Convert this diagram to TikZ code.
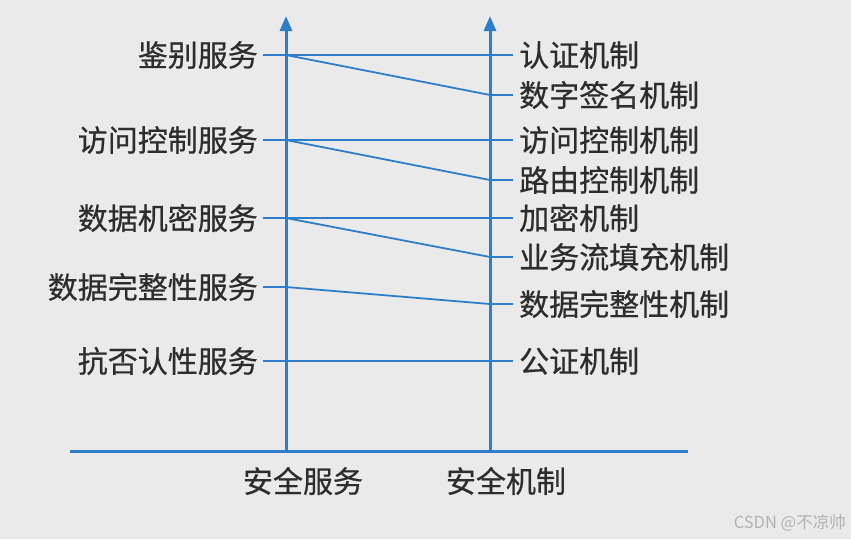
\documentclass[tikz,border=0pt]{standalone}
\usepackage{fontspec}
\setmainfont{Noto Sans CJK SC}
\newfontfamily\cjk[FakeBold=0.6]{Noto Sans CJK SC}
\newfontfamily\wmfont{Noto Sans CJK SC}
\usetikzlibrary{arrows.meta}
\definecolor{axisblue}{RGB}{46,125,200}
\definecolor{txt}{RGB}{45,45,45}
\definecolor{bg}{RGB}{234,234,234}
\begin{document}
\begin{tikzpicture}[x=1pt,y=-1pt,
  lab/.style={font=\cjk\fontsize{30}{32}\selectfont, text=txt, inner ysep=0pt},
  llab/.style={lab, anchor=east, inner xsep=5pt},
  rlab/.style={lab, anchor=west, inner xsep=6pt},
  axisline/.style={draw=axisblue, line width=3pt},
  conn/.style={draw=axisblue, line width=1.8pt, line join=round},
  arr/.style={-{Triangle[length=15pt,width=12pt]}}]
\fill[bg] (0,0) rectangle (851,539);
\useasboundingbox (0,0) rectangle (851,539);
% axes
\coordinate (base0) at (70,451);
\coordinate (base1) at (688,451);
\coordinate (axL) at (286,451);
\coordinate (axR) at (490,451);
\coordinate (topL) at (286,16);
\coordinate (topR) at (490,16);
\draw[axisline] (base0) -- (base1);
\draw[axisline,arr] (axL) -- (topL);
\draw[axisline,arr] (axR) -- (topR);
% left labels
\node[llab] (s1) at (263,55) {鉴别服务};
\node[llab] (s2) at (263,140) {访问控制服务};
\node[llab] (s3) at (263,218) {数据机密服务};
\node[llab] (s4) at (263,287) {数据完整性服务};
\node[llab] (s5) at (263,361) {抗否认性服务};
% right labels
\node[rlab] (m1) at (513,55) {认证机制};
\node[rlab] (m2) at (513,95) {数字签名机制};
\node[rlab] (m3) at (513,140) {访问控制机制};
\node[rlab] (m4) at (513,180) {路由控制机制};
\node[rlab] (m5) at (513,218) {加密机制};
\node[rlab] (m6) at (513,257) {业务流填充机制};
\node[rlab] (m7) at (513,304) {数据完整性机制};
\node[rlab] (m8) at (513,361) {公证机制};
% junctions on axes
\coordinate (j1) at (286,55);
\coordinate (j2) at (286,140);
\coordinate (j3) at (286,218);
\coordinate (j4) at (286,287);
\coordinate (k2) at (490,95);
\coordinate (k4) at (490,180);
\coordinate (k6) at (490,257);
\coordinate (k7) at (490,304);
% connectors
\draw[conn] (s1.east) -- (m1.west);
\draw[conn] (j1) -- (k2) -- (m2.west);
\draw[conn] (s2.east) -- (m3.west);
\draw[conn] (j2) -- (k4) -- (m4.west);
\draw[conn] (s3.east) -- (m5.west);
\draw[conn] (j3) -- (k6) -- (m6.west);
\draw[conn] (s4.east) -- (j4) -- (k7) -- (m7.west);
\draw[conn] (s5.east) -- (m8.west);
% bottom labels
\node[lab] (b1) at (303,481) {安全服务};
\node[lab] (b2) at (506,481) {安全机制};
% watermark
\node[font=\wmfont\fontsize{16.5}{17}\selectfont, text=black!30, anchor=east, inner sep=0pt] (wm) at (846,523) {CSDN @不凉帅};
\end{tikzpicture}
\end{document}
